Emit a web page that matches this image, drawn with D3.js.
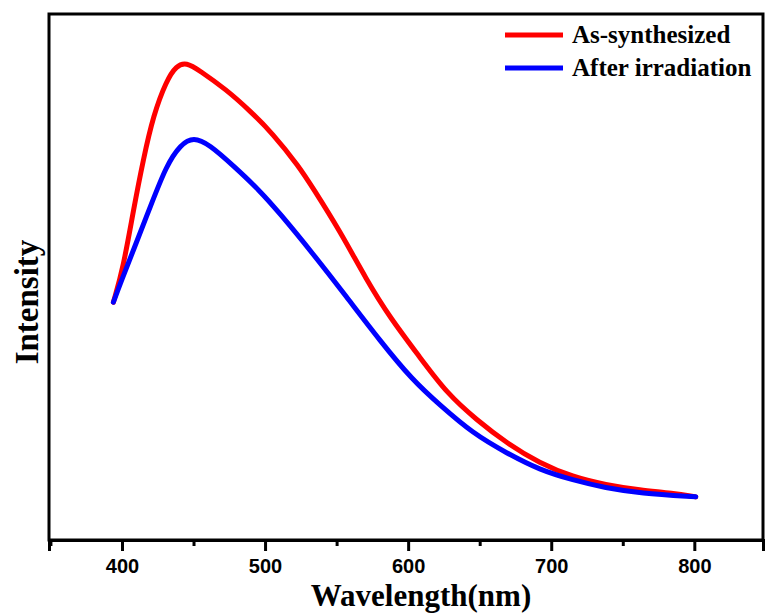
<!DOCTYPE html>
<html>
<head>
<meta charset="utf-8">
<script src="https://cdn.jsdelivr.net/npm/d3@7"></script>
<style>
  body { margin: 0; background: #fff; }
</style>
</head>
<body>
<div id="chart"></div>
<script>
// wavelength (nm) / intensity (a.u.)
const redWave = [394, 401, 408, 415, 422, 431, 438, 445, 454, 473, 489, 505, 524, 533, 552, 571, 587, 608, 627, 648, 669, 692, 715, 738, 762, 785, 801];
const redInt  = [452, 519, 627, 725, 808, 873, 902, 908, 893, 856, 817, 774, 709, 671, 589, 494, 424, 348, 279, 228, 184, 146, 120, 105, 95, 89, 82];
const blueWave = [394, 399, 408, 420, 431, 441, 450, 461, 478, 496, 510, 533, 557, 580, 603, 622, 645, 669, 692, 715, 738, 762, 801];
const blueInt  = [452, 489, 551, 635, 712, 752, 766, 752, 711, 665, 622, 546, 462, 380, 304, 257, 203, 165, 133, 114, 99, 89, 82];
const seriesNames = ["As-synthesized", "After irradiation"];
const seriesColors = ["#ff0000", "#0000ff"];
const majorTicks = [400, 500, 600, 700, 800];
const minorTicks = [350, 450, 550, 650, 750];

const width = 765, height = 614;
const plotLeft = 49, plotRight = 763, plotTop = 14, plotBottom = 540;

const svg = d3.select("#chart").append("svg")
  .attr("width", width)
  .attr("height", height);

const x = d3.scaleLinear().domain([349, 848]).range([plotLeft, plotRight]);
const y = d3.scaleLinear().domain([0, 1000]).range([plotBottom, plotTop]);

// frame
svg.append("rect")
  .attr("x", plotLeft).attr("y", plotTop)
  .attr("width", plotRight - plotLeft).attr("height", plotBottom - plotTop)
  .attr("fill", "none").attr("stroke", "#000").attr("stroke-width", 3);

const xAxis = d3.axisBottom(x).tickValues(majorTicks).tickSize(11).tickPadding(8);
const gx = svg.append("g")
  .attr("transform", "translate(0," + plotBottom + ")")
  .call(xAxis);
gx.select(".domain").attr("stroke-width", 3);
gx.selectAll(".tick line").attr("stroke-width", 3);
gx.selectAll(".tick text")
  .attr("font-family", "'Liberation Sans', Arial, sans-serif")
  .attr("font-weight", "bold")
  .attr("font-size", 20)
  .attr("fill", "#000");

const gm = svg.append("g")
  .attr("transform", "translate(0," + plotBottom + ")")
  .call(d3.axisBottom(x).tickValues(minorTicks).tickSize(6).tickFormat(""));
gm.select(".domain").remove();
gm.selectAll(".tick line").attr("stroke-width", 3);

// curves
const line = d3.line()
  .x(d => x(d[0]))
  .y(d => y(d[1]))
  .curve(d3.curveBasis);

const series = [
  d3.zip(redWave, redInt),
  d3.zip(blueWave, blueInt)
];
series.forEach((s, i) => {
  svg.append("path")
    .datum(s)
    .attr("d", line)
    .attr("fill", "none")
    .attr("stroke", seriesColors[i])
    .attr("stroke-width", 5)
    .attr("stroke-linecap", "round")
    .attr("stroke-linejoin", "round");
});

// axis titles
svg.append("text")
  .attr("x", 421).attr("y", 606)
  .attr("text-anchor", "middle")
  .attr("font-family", "'Liberation Serif', 'Times New Roman', serif")
  .attr("font-weight", "bold")
  .attr("font-size", 31)
  .text("Wavelength(nm)");

svg.append("text")
  .attr("transform", "translate(38,302) rotate(-90)")
  .attr("text-anchor", "middle")
  .attr("font-family", "'Liberation Serif', 'Times New Roman', serif")
  .attr("font-weight", "bold")
  .attr("font-size", 33)
  .text("Intensity");

// legend
const legend = svg.append("g");
seriesNames.forEach((name, i) => {
  const ly = 35 + i * 33;
  legend.append("line")
    .attr("x1", 505).attr("x2", 563)
    .attr("y1", ly).attr("y2", ly)
    .attr("stroke", seriesColors[i])
    .attr("stroke-width", 5);
  legend.append("text")
    .attr("x", 572).attr("y", ly + 8)
    .attr("font-family", "'Liberation Serif', 'Times New Roman', serif")
    .attr("font-weight", "bold")
    .attr("font-size", 25)
    .text(name);
});
</script>
</body>
</html>
